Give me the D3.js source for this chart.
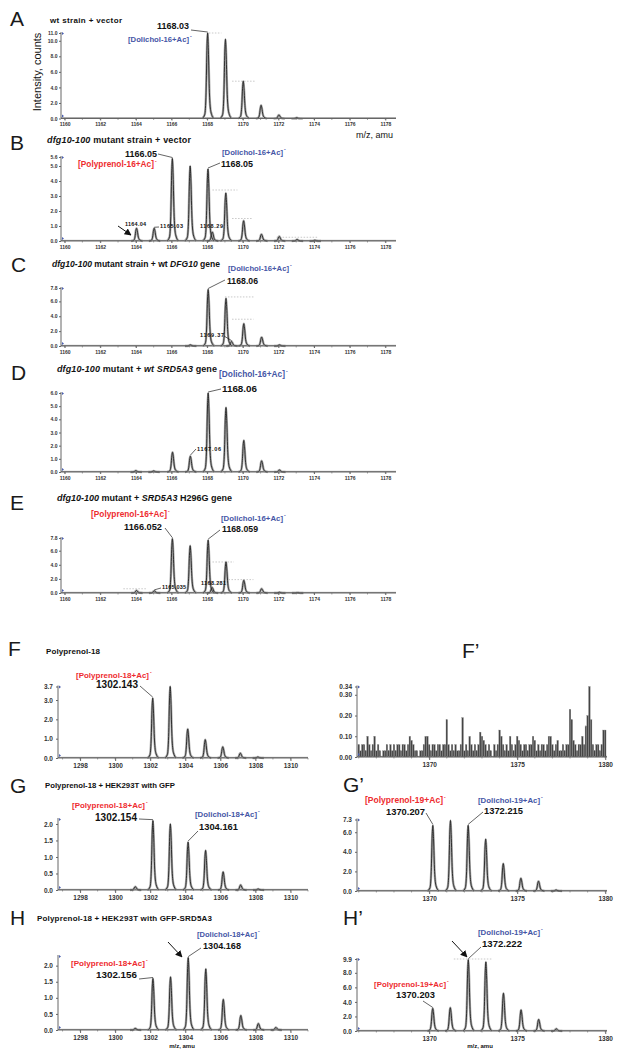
<!DOCTYPE html>
<html><head><meta charset="utf-8">
<script src="https://cdn.jsdelivr.net/npm/d3@7"></script>
<style>body{margin:0;background:#fff}svg{display:block;font-family:"Liberation Sans",Arial,sans-serif}</style>
</head><body><svg id="c" width="618" height="1050"></svg>
<script>
// ---------------- DATA (peak m/z, intensity) ----------------
const peaksA = [[1168.03,11.0],[1169.03,10.2],[1170.03,4.8],[1171.03,1.7],[1172.03,0.45],[1173.03,0.1]];
const peaksB = [[1164.04,0.85],[1165.03,0.85],[1166.05,5.5],[1167.05,5.0],[1168.05,4.8],[1168.29,0.6],[1169.05,3.2],[1170.05,1.35],[1171.05,0.45],[1172.05,0.3],[1173.05,0.1],[1174.05,0.05]];
const peaksC = [[1167.06,0.15],[1168.06,7.6],[1169.06,6.4],[1169.37,0.6],[1170.06,3.0],[1171.06,1.2],[1172.06,0.15]];
const peaksD = [[1164.0,0.1],[1165.0,0.08],[1166.06,1.5],[1167.06,1.2],[1168.06,6.0],[1169.06,4.9],[1170.06,2.4],[1171.06,0.85],[1172.06,0.15]];
const peaksE = [[1164.04,0.35],[1165.035,0.3],[1166.052,7.7],[1167.05,6.7],[1168.059,7.5],[1168.281,0.8],[1169.06,4.4],[1170.06,1.8],[1171.06,0.6],[1172.06,0.1],[1173.06,0.05]];
const peaksF = [[1302.143,3.1],[1303.14,3.7],[1304.14,1.5],[1305.14,0.95],[1306.14,0.58],[1307.14,0.25],[1308.14,0.05]];
const peaksG = [[1301.15,0.1],[1302.154,2.1],[1303.15,2.0],[1304.161,1.45],[1305.16,1.2],[1306.16,0.55],[1307.16,0.15],[1308.16,0.03]];
const peaksGp = [[1370.207,6.7],[1371.21,7.2],[1372.215,6.7],[1373.21,5.3],[1374.21,2.8],[1375.21,1.3],[1376.21,1.0],[1377.21,0.1]];
const peaksH = [[1301.15,0.05],[1302.156,1.6],[1303.16,1.65],[1304.168,2.25],[1305.17,1.9],[1306.17,0.95],[1307.17,0.45],[1308.17,0.2],[1309.17,0.08]];
const peaksHp = [[1370.203,3.1],[1371.2,3.2],[1372.222,9.8],[1373.22,9.5],[1374.22,5.2],[1375.22,2.9],[1376.22,1.6],[1377.22,0.3]];
// F' noise spectrum (m/z, intensity)
const noiseFp = [[1366.0,0.06],[1366.1,0.03],[1366.2,0.06],[1366.3,0.06],[1366.4,0.03],[1366.5,0.1],[1366.6,0.06],[1366.7,0.03],[1366.8,0.06],[1366.9,0.1],
[1367.0,0.03],[1367.1,0.06],[1367.2,0.03],[1367.4,0.03],[1367.5,0.03],[1367.6,0.06],[1367.7,0.03],[1367.8,0.06],[1367.9,0.03],
[1368.0,0.06],[1368.1,0.03],[1368.2,0.06],[1368.3,0.06],[1368.4,0.03],[1368.5,0.06],[1368.6,0.06],[1368.7,0.03],[1368.8,0.06],[1368.9,0.1],
[1369.0,0.08],[1369.1,0.06],[1369.2,0.03],[1369.3,0.03],[1369.5,0.03],[1369.6,0.03],[1369.7,0.06],[1369.8,0.1],[1369.9,0.1],
[1370.0,0.06],[1370.1,0.03],[1370.2,0.06],[1370.3,0.06],[1370.4,0.03],[1370.5,0.06],[1370.6,0.06],[1370.7,0.03],[1370.8,0.06],[1370.9,0.06],
[1371.0,0.18],[1371.1,0.06],[1371.2,0.03],[1371.3,0.06],[1371.4,0.03],[1371.5,0.06],[1371.6,0.03],[1371.7,0.03],[1371.8,0.06],[1371.9,0.19],
[1372.0,0.03],[1372.1,0.06],[1372.2,0.03],[1372.3,0.1],[1372.4,0.06],[1372.5,0.03],[1372.6,0.06],[1372.7,0.03],[1372.8,0.06],[1372.9,0.12],
[1373.0,0.1],[1373.1,0.08],[1373.2,0.06],[1373.3,0.03],[1373.4,0.06],[1373.5,0.03],[1373.7,0.06],[1373.8,0.03],[1373.9,0.06],
[1374.0,0.13],[1374.1,0.1],[1374.2,0.06],[1374.3,0.03],[1374.4,0.06],[1374.5,0.03],[1374.6,0.1],[1374.7,0.06],[1374.8,0.03],[1374.9,0.06],
[1375.0,0.1],[1375.1,0.08],[1375.2,0.06],[1375.3,0.03],[1375.4,0.06],[1375.5,0.06],[1375.6,0.03],[1375.7,0.06],[1375.8,0.06],[1375.9,0.1],
[1376.0,0.08],[1376.1,0.03],[1376.2,0.06],[1376.3,0.03],[1376.4,0.06],[1376.5,0.06],[1376.6,0.03],[1376.7,0.06],[1376.8,0.1],[1376.9,0.1],
[1377.0,0.06],[1377.1,0.03],[1377.2,0.06],[1377.3,0.08],[1377.4,0.03],[1377.5,0.03],[1377.6,0.06],[1377.7,0.03],[1377.8,0.06],[1377.9,0.06],
[1378.0,0.23],[1378.1,0.18],[1378.2,0.08],[1378.3,0.06],[1378.4,0.03],[1378.5,0.06],[1378.6,0.06],[1378.7,0.1],[1378.8,0.06],[1378.9,0.15],
[1379.0,0.2],[1379.1,0.34],[1379.2,0.18],[1379.3,0.06],[1379.4,0.03],[1379.5,0.06],[1379.6,0.06],[1379.7,0.03],[1379.8,0.06],[1379.9,0.13],[1380.0,0.13]];

// dotted guide lines drawn by the instrument software [m/z from, m/z to, intensity]
const guidesA = [[1168.1,1168.8,11.0],[1169.4,1170.7,4.8]];
const guidesB = [[1168.3,1169.7,3.4],[1169.4,1170.5,1.5],[1171.9,1174.2,0.25]];
const guidesC = [[1169.0,1170.6,6.6],[1169.4,1170.6,3.6]];
const guidesE = [[1168.3,1169.5,4.4],[1169.2,1170.6,1.9],[1163.3,1164.6,0.6]];
const guidesHp = [[1371.4,1373.6,9.9]];

// tick values
const xTicksYeast = [1160,1162,1164,1166,1168,1170,1172,1174,1176,1178];
const xTicksP18 = [1298,1300,1302,1304,1306,1308,1310];
const xTicksP19 = [1370,1375,1380];
const yTicksA = [0,2,4,6,8,10,11];
const yTicksB = [0,1,2,3,4,5,5.6];
const yTicksC = [0,2,4,6,7.8];
const yTicksD = [0,1,2,3,4,5,6];
const yTicksE = [0,2,4,6,7.8];
const yTicksF = [0,1,2,3,3.7];
const yTicksFp = [0,0.1,0.2,0.3,0.34];
const yTicksG = [0,0.5,1,1.5,2];
const yTicksGp = [0,2,4,6,7.3];
const yTicksH = [0,0.5,1,1.5,2];
const yTicksHp = [0,2,4,6,8,9.9];

// ---------------- LAYOUT ----------------
const RED = "#ee2b2f", BLUE = "#4556a6";
const svg = d3.select("#c");
const defs = svg.append("defs");
defs.append("marker").attr("id","arr").attr("viewBox","0 0 10 10").attr("refX",9).attr("refY",5)
  .attr("markerWidth",7).attr("markerHeight",7).attr("orient","auto")
  .append("path").attr("d","M0,0L10,5L0,10z").attr("fill","#111");

const yeastX = {xd:[1159.8,1178.6], xr:[61,396], xt:xTicksYeast, small:true};
const p18X = {xd:[1296.74,1311.0], xr:[58,308], xt:xTicksP18, small:false};
const p19X = {xd:[1365.9,1380.1], xr:[357,607], xt:xTicksP19, small:false};

const panels = [
 {...yeastX, peaks:peaksA, ymax:11.0, yr:[118.5,33], yt:yTicksA, guides:guidesA},
 {...yeastX, peaks:peaksB, ymax:5.6, yr:[241,157], yt:yTicksB, guides:guidesB},
 {...yeastX, peaks:peaksC, ymax:7.8, yr:[346,288], yt:yTicksC, guides:guidesC},
 {...yeastX, peaks:peaksD, ymax:6.0, yr:[472,393], yt:yTicksD, guides:[]},
 {...yeastX, peaks:peaksE, ymax:7.8, yr:[593,538], yt:yTicksE, guides:guidesE},
 {...p18X, peaks:peaksF, ymax:3.7, yr:[758,686.5], yt:yTicksF, guides:[]},
 {...p19X, bars:noiseFp, ymax:0.34, yr:[757,686.5], yt:yTicksFp, guides:[], dec:2},
 {...p18X, peaks:peaksG, ymax:2.15, yr:[890,819], yt:yTicksG, guides:[]},
 {...p19X, peaks:peaksGp, ymax:7.3, yr:[891,819.5], yt:yTicksGp, guides:[]},
 {...p18X, peaks:peaksH, ymax:2.3, yr:[1030,956], yt:yTicksH, guides:[]},
 {...p19X, peaks:peaksHp, ymax:9.9, yr:[1031,959], yt:yTicksHp, guides:guidesHp},
];

// peak shape template (offset in m/z, relative height) - rendering style
const shape = [[-0.3,0],[-0.16,0.05],[-0.09,0.3],[-0.035,0.85],[0,1],[0.04,0.8],[0.1,0.3],[0.18,0.08],[0.34,0]];

panels.forEach(p => {
  const x = d3.scaleLinear().domain(p.xd).range(p.xr);
  const y = d3.scaleLinear().domain([0,p.ymax]).range(p.yr);
  p.x = x; p.y = y;
  const g = svg.append("g");
  const fs = p.small ? 5 : 6.5;
  g.selectAll(".gd").data(p.guides).join("line")
    .attr("x1",d=>x(d[0])).attr("x2",d=>x(d[1])).attr("y1",d=>y(d[2])).attr("y2",d=>y(d[2]))
    .attr("stroke","#bbb").attr("stroke-width",0.8).attr("stroke-dasharray","1.5,1.5");
  g.append("line").attr("x1",p.xr[0]).attr("x2",p.xr[1]).attr("y1",y(0)-0.6).attr("y2",y(0)-0.6)
    .attr("stroke","#555").attr("stroke-width",0.8);
  if (p.peaks) {
    const line = d3.line().x(d=>d[0]).y(d=>d[1]).curve(d3.curveMonotoneX);
    const pts = pk => shape.map(s => [x(pk[0]+s[0]), y(pk[1]*s[1])]);
    g.selectAll(".pu").data(p.peaks).join("path").attr("d",d=>line(pts(d)))
      .attr("fill","none").attr("stroke","#aaa").attr("stroke-width",2.4);
    g.selectAll(".pk").data(p.peaks).join("path").attr("d",d=>line(pts(d)))
      .attr("fill","none").attr("stroke","#222").attr("stroke-width",0.9);
  }
  if (p.bars) {
    g.selectAll(".br").data(p.bars).join("rect")
      .attr("x",d=>x(d[0])-0.8).attr("width",1.6)
      .attr("y",d=>y(d[1])).attr("height",d=>y(0)-y(d[1]))
      .attr("fill","#444").attr("stroke","#888").attr("stroke-width",0.3);
  }
  const xa = d3.axisBottom(x).tickValues(p.xt).tickSize(p.small?2:3).tickPadding(2).tickFormat(d3.format("d"));
  const ax = g.append("g").attr("transform",`translate(0,${y(0)})`).call(xa);
  ax.select(".domain").attr("d",`M${p.xr[0]},0H${p.xr[1]}`);
  const minor = d3.range(Math.ceil(p.xd[0]), Math.floor(p.xd[1])+1);
  ax.selectAll(".mn").data(minor).join("line").attr("x1",d=>x(d)).attr("x2",d=>x(d)).attr("y1",0).attr("y2",1.5).attr("stroke","#666").attr("stroke-width",0.6);
  const ya = d3.axisLeft(y).tickValues(p.yt).tickSize(2).tickPadding(p.small?1.5:3)
    .tickFormat(d=>d.toFixed(p.dec||1));
  const ay = g.append("g").attr("transform",`translate(${p.xr[0]},0)`).call(ya);
  ay.select(".domain").attr("d",`M0,${p.yr[0]}V${p.yr[1]-1}`);
  [ax,ay].forEach(a=>{
    a.selectAll(".domain").attr("stroke","#666").attr("stroke-width",1);
    a.selectAll(".tick line").attr("stroke","#666");
    a.selectAll("text").attr("font-size",fs).attr("font-weight","bold").attr("fill","#333")
      .attr("font-family","'Liberation Sans',Arial,sans-serif");
  });
  g.append("path").attr("d",`M${p.xr[0]+1},${p.yr[0]-4}l2,1.5l-2,1.5z`).attr("fill","#4a5fb0");
  g.append("path").attr("d",`M${p.xr[0]+1},${p.yr[1]-1}l2,1.5l-2,1.5z`).attr("fill","#4a5fb0");
});

// ---------------- TEXT ----------------
// fit text to a target width via letter-spacing (or font shrink if too wide)
function fit(e, w, size) {
  if (!w) return;
  const n = e.text().length;
  let len = e.node().getComputedTextLength();
  if (len > w) {
    const s = size * w / len;
    e.attr("font-size", s);
    len = e.node().getComputedTextLength();
  }
  if (len < w && n > 1) e.attr("letter-spacing", ((w - len) / (n - 1)).toFixed(3));
}
function txt(t, x, y, size, opts={}) {
  const e = svg.append("text").attr("x",x).attr("y",y).attr("font-size",size)
    .attr("font-weight",opts.bold===false?"normal":"bold").attr("fill",opts.fill||"#111");
  if (Array.isArray(t)) {
    t.forEach(s => e.append("tspan").text(s[0]).attr("font-style",s[1]?"italic":"normal"));
  } else e.text(t);
  fit(e, opts.w, size);
  if (opts.anchor) e.attr("text-anchor",opts.anchor);
  return e;
}
[["A",10,26],["B",10,150],["C",11,272],["D",11,380],["E",10,510],["F",8,656],["F’",462,658],
 ["G",10,793],["G’",343,792],["H",10,925],["H’",343,925]].forEach(l=>txt(l[0],l[1],l[2],21,{bold:false,fill:"#1a1a1a"}));

txt("wt strain + vector",50,23,8,{w:72});
txt([["dfg10-100",1],[" mutant strain + vector",0]],47,143,9,{w:144});
txt([["dfg10-100",1],[" mutant strain + wt ",0],["DFG10",1],[" gene",0]],52,267,9,{w:168});
txt([["dfg10-100",1],[" mutant + ",0],["wt SRD5A3",1],[" gene",0]],57,372,9,{w:160});
txt([["dfg10-100",1],[" mutant + ",0],["SRD5A3",1],[" H296G gene",0]],57,501,9,{w:175});
txt("Polyprenol-18",46,654,8,{w:54});
txt("Polyprenol-18 + HEK293T with GFP",45,788,8,{w:130});
txt("Polyprenol-18 + HEK293T with GFP-SRD5A3",37,921,8,{w:175});

svg.append("text").attr("transform","translate(41,72) rotate(-90)").attr("text-anchor","middle")
  .attr("font-size",11).attr("fill","#111").text("Intensity, counts");
txt("m/z, amu",356,138,10,{bold:false,w:37});
txt("m/z, amu",182,1048,6,{anchor:"middle"});
txt("m/z, amu",480,1048,6,{anchor:"middle"});

function species(t, x, y, w, col) {
  txt(t, x, y, 8.5, {w:w, fill:col});
  txt("-", x+w+1, y-4, 5, {fill:col});
}
function num(t, x, y, w, p, pk, from, size) {
  txt(t, x, y, size||10, {w:w});
  if (pk) {
    svg.append("line").attr("x1",from[0]).attr("y1",from[1])
      .attr("x2",p.x(pk[0])).attr("y2",p.y(pk[1])-1).attr("stroke","#222").attr("stroke-width",0.7);
  }
}
function arrow(x1,y1,x2,y2){
  svg.append("line").attr("x1",x1).attr("y1",y1).attr("x2",x2).attr("y2",y2)
    .attr("stroke","#111").attr("stroke-width",1).attr("marker-end","url(#arr)");
}
const [pA,pB,pC,pD,pE,pF,pFp,pG,pGp,pH,pHp] = panels;
// A
num("1168.03",157,29,32,pA,peaksA[0],[191,30]);
species("[Dolichol-16+Ac]",128,42,61,BLUE);
// B
num("1166.05",125,157,32,pB,peaksB[2],[158,154]);
species("[Polyprenol-16+Ac]",78,167,76,RED);
species("[Dolichol-16+Ac]",222,155,61,BLUE);
num("1168.05",221,167,32,pB,peaksB[4],[220,163]);
num("1164.04",125,226,21,null,null,null,5.5);
arrow(118,226,131,235);
num("1165.03",160,228,23,pB,peaksB[1],[159,227],5.5);
num("1168.29",200,228,23,null,null,null,5.5);
// C
species("[Dolichol-16+Ac]",228,271,61,BLUE);
num("1168.06",227,284,31,pC,peaksC[1],[225,280]);
num("1169.37",200,337,24,pC,peaksC[3],[224,336],5.5);
// D
species("[Dolichol-16+Ac]",219,377,66,BLUE);
num("1168.06",222,392,35,pD,peaksD[4],[221,389]);
num("1167.06",197,451,24,pD,peaksD[3],[196,449],5.5);
// E
species("[Polyprenol-16+Ac]",91,517,76,RED);
num("1166.052",124,530,38,pE,peaksE[2],[165,528]);
species("[Dolichol-16+Ac]",221,521,62,BLUE);
num("1168.059",222,532,36,pE,peaksE[4],[220,530]);
num("1165.035",162,589,24,pE,peaksE[1],[161,588],5.5);
num("1168.281",201,585,25,null,null,null,5.5);
// F
species("[Polyprenol-18+Ac]",76,678,73,RED);
num("1302.143",96,688,42,pF,peaksF[0],[140,686]);
// G
species("[Polyprenol-18+Ac]",72,808,73,RED);
num("1302.154",95,821,42,pG,peaksG[1],[139,819]);
species("[Dolichol-18+Ac]",195,817,62,BLUE);
num("1304.161",199,830,39,pG,peaksG[3],[198,831]);
// G'
species("[Polyprenol-19+Ac]",365,803,78,RED);
num("1370.207",386,815,39,pGp,peaksGp[0],[426,813]);
species("[Dolichol-19+Ac]",478,803,62,BLUE);
num("1372.215",484,814,39,pGp,peaksGp[2],[483,812]);
// H
species("[Dolichol-18+Ac]",197,937,60,BLUE);
num("1304.168",203,949,38,pH,peaksH[3],[201,948]);
arrow(168,942,182,957);
species("[Polyprenol-18+Ac]",71,966,74,RED);
num("1302.156",96,978,41,pH,peaksH[1],[139,979]);
// H'
species("[Dolichol-19+Ac]",478,935,62,BLUE);
num("1372.222",482,947,40,pHp,peaksHp[2],[481,947]);
arrow(452,941,467,957);
species("[Polyprenol-19+Ac]",374,987,72,RED);
num("1370.203",396,998,39,pHp,peaksHp[0],[423,1001]);
</script></body></html>
